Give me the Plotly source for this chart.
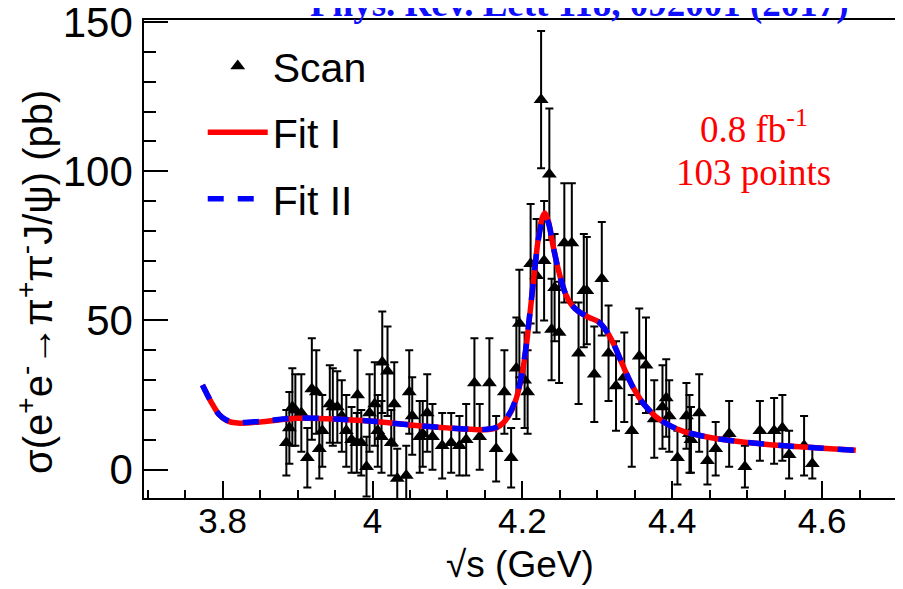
import plotly.graph_objects as go

# ---- data ----
scan_x = [3.885, 3.889, 3.893, 3.897, 3.905, 3.913, 3.919, 3.925, 3.929, 3.933,
          3.943, 3.947, 3.953, 3.959, 3.965, 3.972, 3.979, 3.980, 3.985, 3.992,
          3.996, 4.003, 4.007, 4.012, 4.013, 4.020, 4.025, 4.029, 4.033, 4.045,
          4.049, 4.053, 4.063, 4.067, 4.073, 4.080, 4.093, 4.105, 4.116, 4.125,
          4.136, 4.143, 4.156, 4.165, 4.176, 4.185, 4.192, 4.196, 4.203, 4.207,
          4.211, 4.219, 4.225, 4.229, 4.236, 4.239, 4.243, 4.249, 4.256, 4.266,
          4.275, 4.282, 4.286, 4.296, 4.306, 4.315, 4.325, 4.336, 4.346, 4.356,
          4.365, 4.376, 4.387, 4.392, 4.396, 4.407, 4.419, 4.423, 4.425, 4.436,
          4.447, 4.458, 4.476, 4.497, 4.517, 4.536, 4.547, 4.556, 4.576, 4.587]
scan_y = [9, 14, 21, 20, 19, 4, 27, 26, 7, 13,
          22, 21, 21, 18, 13, 10, 9, 25, 9, 1,
          19, 22, 13, 11, 36, 33, 9, 22, -3, -2,
          26, 18, 11, 12, 19, 11, 8, 9, 8, 10,
          29, 11, 29, 7, 26, 4, 34, 49, 30, 26,
          69, 65, 124, 70, 99, 47, 61, 46, 76, 76,
          39, 60, 60, 32, 64, 39, 28, 31, 13, 38,
          35, 17, 21, 24, 18, 4, 18, 12, 10, 19,
          3, 7, 12, 1, 13, 13, 14, 5, 8, 2]
scan_err = [11, 12, 13, 12, 13, 10, 17, 14, 10, 12,
            13, 13, 12, 12, 12, 11, 10, 15, 11, 10,
            13, 14, 12, 12, 17, 15, 11, 14, 10, 10,
            14, 13, 12, 11, 13, 11, 11, 10, 10, 12,
            15, 11, 15, 11, 14, 10, 17, 18, 16, 14,
            20, 19, 23, 20, 22, 17, 18, 17, 20, 20,
            17, 19, 18, 16, 19, 16, 15, 15, 12, 16,
            16, 13, 14, 13, 12, 9, 11, 13, 11, 13,
            8, 9, 11, 7, 10, 11, 11, 8, 10, 5]

fit_x = [3.773, 3.785, 3.795, 3.805, 3.82, 3.85, 3.90, 3.95, 4.00, 4.05,
         4.10, 4.15, 4.165, 4.175, 4.185, 4.192, 4.198, 4.204, 4.210, 4.216,
         4.221, 4.226, 4.230, 4.235, 4.241, 4.248, 4.256, 4.265, 4.275, 4.289,
         4.302, 4.312, 4.322, 4.334, 4.348, 4.362, 4.378, 4.395, 4.415, 4.44,
         4.47, 4.50, 4.55, 4.60, 4.645]
fit1_y = [28.4, 22.5, 18.5, 16.5, 15.6, 16.0, 17.2, 17.0, 16.2, 15.0,
          14.0, 13.4, 14.0, 15.8, 19.5, 24.0, 30.0, 39.0, 52.0, 66.0,
          77.0, 84.0, 86.0, 83.0, 75.0, 67.0, 60.0, 55.5, 53.0, 51.0,
          49.5, 46.5, 42.0, 35.0, 27.5, 22.0, 17.8, 15.0, 12.8, 11.3,
          10.0, 9.1, 8.0, 7.2, 6.5]
fit2_y = [28.4, 22.5, 18.5, 16.6, 15.8, 16.2, 17.3, 17.0, 16.2, 15.0,
          14.0, 13.5, 14.2, 16.0, 19.8, 24.3, 30.5, 39.5, 52.5, 66.0,
          76.5, 83.0, 85.0, 82.5, 75.0, 67.0, 60.0, 55.5, 53.0, 51.0,
          49.5, 46.5, 42.0, 35.0, 27.5, 22.0, 17.8, 15.0, 12.8, 11.3,
          10.0, 9.1, 8.0, 7.2, 6.5]

x_tickvals = [3.8, 4.0, 4.2, 4.4, 4.6]
x_ticktext = ["3.8", "4", "4.2", "4.4", "4.6"]
y_tickvals = [0, 50, 100, 150]
y_ticktext = ["0", "50", "100", "150"]

SANS = "Liberation Sans, Arial, sans-serif"
SERIF = "Liberation Serif, Times New Roman, serif"

fig = go.Figure()

fig.add_trace(go.Scatter(
    x=scan_x, y=scan_y, mode="markers", name="Scan", legendgroup="a",
    marker=dict(symbol="triangle-up", size=13, color="black"),
    error_y=dict(type="data", array=scan_err, color="black", thickness=2, width=4),
))
fig.add_trace(go.Scatter(
    x=fit_x, y=fit1_y, mode="lines", name="Fit I", legendgroup="b",
    line=dict(color="#ff0000", width=5.5, shape="spline", smoothing=0.8),
))
fig.add_trace(go.Scatter(
    x=fit_x, y=fit2_y, mode="lines", name="Fit II", legendgroup="c",
    line=dict(color="#0000ff", width=5.5, dash="16px,14px", shape="spline", smoothing=0.8),
))

axis_common = dict(
    showline=True, linecolor="black", linewidth=1.5, mirror=True,
    ticks="inside", tickcolor="black", tickwidth=1.5,
    showgrid=False, zeroline=False, automargin=False,
    ticklabeloverflow="allow",
)

fig.update_xaxes(
    range=[3.695, 4.70], tickvals=x_tickvals, ticktext=x_ticktext, ticklen=17,
    minor=dict(dtick=0.05, tick0=3.8, ticklen=8, ticks="inside", tickcolor="black", tickwidth=1.5),
    tickfont=dict(family=SANS, size=35, color="black"),
    ticklabelstandoff=-9,
    **axis_common,
)
fig.update_yaxes(
    range=[-9.5, 150.7], tickvals=y_tickvals, ticktext=y_ticktext, ticklen=24,
    minor=dict(dtick=10, tick0=0, ticklen=12, ticks="inside", tickcolor="black", tickwidth=1.5),
    tickfont=dict(family=SANS, size=42, color="black"),
    ticklabelstandoff=1,
    **axis_common,
)

# axis titles as annotations for exact placement
fig.add_annotation(text="σ(e<sup>+</sup>e<sup>-</sup>→π<sup>+</sup>π<sup>-</sup>J/ψ) (pb)",
                   x=-0.1448, y=0.452, xref="paper", yref="paper", textangle=-90,
                   xanchor="center", yanchor="middle", showarrow=False,
                   font=dict(family=SANS, size=40, color="black"))
fig.add_annotation(text="√s (GeV)", x=0.4993, y=-0.140, xref="paper", yref="paper",
                   xanchor="center", yanchor="middle", showarrow=False,
                   font=dict(family=SANS, size=37, color="black"))

fig.add_annotation(text="0.8 fb<sup>-1</sup>", x=4.509, y=115, xref="x", yref="y",
                   showarrow=False, font=dict(family=SERIF, size=37, color="#ff0000"))
fig.add_annotation(text="103 points", x=4.509, y=99.5, xref="x", yref="y",
                   showarrow=False, font=dict(family=SERIF, size=37, color="#ff0000"))
fig.add_annotation(text="<b>Phys. Rev. Lett 118, 092001 (2017)</b>", x=0.579, xref="paper",
                   y=1.0335, yref="paper", xanchor="center", yanchor="middle",
                   showarrow=False, font=dict(family=SERIF, size=37, color="#1010ff"))

fig.update_layout(
    width=895, height=581,
    margin=dict(l=136, r=6, t=12, b=91, autoexpand=False),
    paper_bgcolor="white", plot_bgcolor="white",
    showlegend=True,
    legend=dict(x=0.078, y=0.973, xanchor="left", yanchor="top",
                font=dict(family=SANS, size=41, color="black"),
                bgcolor="rgba(0,0,0,0)", tracegroupgap=10, itemwidth=60),
)

fig.write_html("out.html")
